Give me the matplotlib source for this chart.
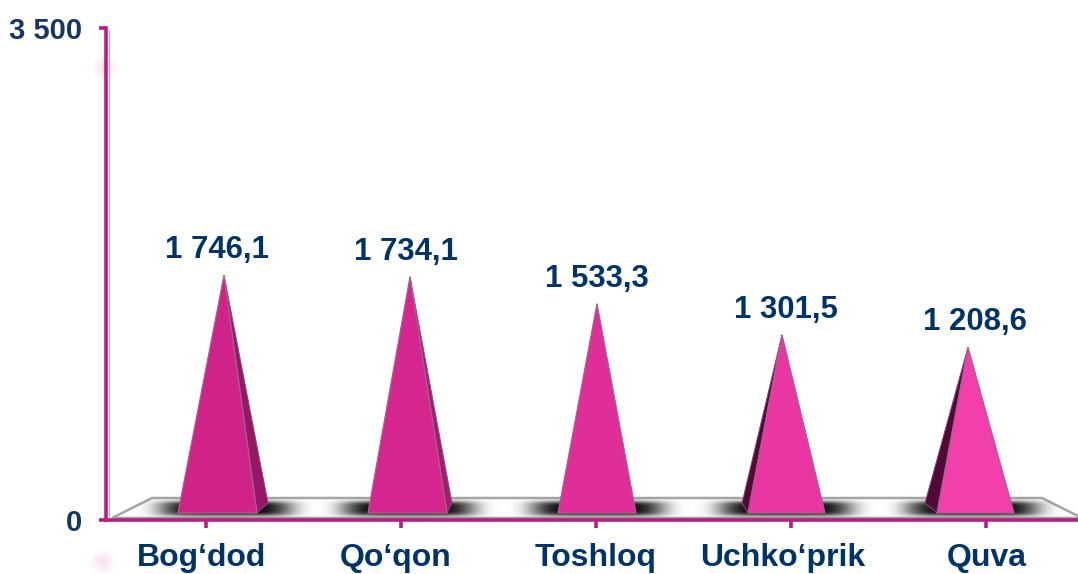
import matplotlib
matplotlib.use("Agg")
import matplotlib.pyplot as plt
from matplotlib.patches import Polygon
from matplotlib.transforms import ScaledTranslation
import numpy as np

# Values
districts = ["Bog‘dod", "Qo‘qon", "Toshloq", "Uchko‘prik", "Quva"]
values = [1746.1, 1734.1, 1533.3, 1301.5, 1208.6]
y_ticks = [0, 3500]

front_colors = ["#CF2389", "#D4268E", "#E02E98", "#EA36A3", "#F23FAB"]
side_colors = ["#971767", "#A41B72", "#E02E98", "#4F0A38", "#4F0A38"]

plt.rcParams["font.family"] = ["Liberation Sans", "DejaVu Sans"]
plt.rcParams["font.weight"] = "bold"

W, H = 1078, 574
AXIS = "#B81E82"
LABEL = "#003366"

fig = plt.figure(figsize=(W / 100, H / 100), dpi=100)

# backdrop in pixel coordinates: floor, shadows, pale glows
bg = fig.add_axes([0, 0, 1, 1], zorder=0)
bg.set_axis_off()

floor = Polygon([(112, 518), (152, 498), (1042, 498), (1082, 518)], closed=True,
                facecolor="white", edgecolor="#A6A6A6", linewidth=1.8, zorder=1)
bg.add_patch(floor)

xx, yy = np.meshgrid(np.arange(W), np.arange(495, 520))
alpha = np.zeros(xx.shape)
for cx in [225, 408, 597, 785, 972]:
    alpha = np.maximum(alpha, np.exp(-(np.abs(xx - cx) / 66.0) ** 5))
alpha = alpha * np.exp(-((yy - 508) / 7.5) ** 4)
rgba = np.zeros(xx.shape + (4,))
rgba[..., 3] = alpha
im = bg.imshow(rgba, extent=(0, W, 520, 495), aspect="auto", zorder=2, interpolation="bilinear")
im.set_clip_path(floor)

gx, gy = np.meshgrid(np.linspace(-1, 1, 41), np.linspace(-1, 1, 41))
glow = np.ones(gx.shape + (4,))
glow[..., :3] = (0.93, 0.55, 0.78)
glow[..., 3] = 0.32 * np.clip(1 - np.hypot(gx, gy), 0, 1) ** 1.3
bg.imshow(glow, extent=(90, 120, 83, 53), aspect="auto", zorder=2)
bg.imshow(glow, extent=(88, 118, 577, 547), aspect="auto", zorder=2)

bg.plot([108.5, 108.5], [30, 518], color="#B0B0B0", lw=0.9, zorder=1)
bg.set_xlim(0, W)
bg.set_ylim(H, 0)

# main axes: 0 is at y=520, 3 500 at y=28, spine at x=106
ax = fig.add_axes([106 / W, (H - 520) / H, (W - 106) / W, 492 / H], zorder=1)
ax.patch.set_visible(False)
ax.set_xlim(-100 / 195, (W - 206) / 195)
ax.set_ylim(0, 3500)

base_y = 7 / 492 * 3500      # pyramid front edge sits a bit above the axis
back_y = 17 / 492 * 3500
half_left = [28, 33, 38, 43, 49]
half_right = [51, 46, 40, 34, 28]
apex_shift = [18, 9, 1, -9, -18]
side_dx = [11, 5, 0, -6, -12]
# the pyramids stand on a floor set back from the axis, so they are foreshortened
floor_lift = 78
depth_scale = 0.953

for i, v in enumerate(values):
    tip = i + apex_shift[i] / 195
    tip_y = floor_lift + depth_scale * v
    left = i - half_left[i] / 195
    right = i + half_right[i] / 195
    if side_dx[i] > 0:
        ax.add_patch(Polygon([(right, base_y), (right + side_dx[i] / 195, back_y), (tip, tip_y)],
                             closed=True, facecolor=side_colors[i], edgecolor="#8A4A74",
                             linewidth=0.7, zorder=3))
    elif side_dx[i] < 0:
        ax.add_patch(Polygon([(left, base_y), (left + side_dx[i] / 195, back_y), (tip, tip_y)],
                             closed=True, facecolor=side_colors[i], edgecolor="#8A4A74",
                             linewidth=0.7, zorder=3))
    ax.add_patch(Polygon([(left, base_y), (right, base_y), (tip, tip_y)], closed=True,
                         facecolor=front_colors[i], edgecolor="#A8608F", linewidth=0.9, zorder=4))
    label = f"{v:,.1f}".replace(",", " ").replace(".", ",")
    ax.annotate(label, xy=(tip, tip_y), xytext=([-7, -4, 0, 4, 7][i] * 0.72, 17 * 0.72),
                textcoords="offset points", ha="center", va="baseline",
                fontsize=22.4, color=LABEL, fontweight="bold", zorder=5)

for s in ["top", "right"]:
    ax.spines[s].set_visible(False)
for s in ["left", "bottom"]:
    ax.spines[s].set_color(AXIS)
    ax.spines[s].set_linewidth(2.6)

ax.set_yticks(y_ticks)
ax.set_yticklabels([f"{t:,}".replace(",", " ") for t in y_ticks],
                   fontsize=21, color="#17375E", fontweight="bold")
ax.tick_params(axis="y", length=5, width=2.6, color=AXIS, pad=12)

ax.set_xticks(range(len(districts)))
ax.set_xticklabels(districts, fontsize=23, color=LABEL, fontweight="bold")
ax.tick_params(axis="x", length=6, width=2.6, color=AXIS, pad=10.5)

# the labels are not quite centred on their ticks in the original
for lab, dx in zip(ax.get_xticklabels(), [-4, -5, 0, -8, 1]):
    lab.set_transform(lab.get_transform() + ScaledTranslation(dx / 100, 0, fig.dpi_scale_trans))

fig.savefig("out.png", dpi=100)
plt.close(fig)
